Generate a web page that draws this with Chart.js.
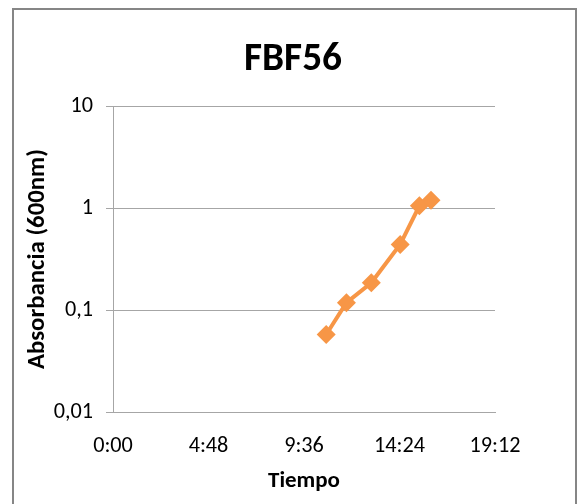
<!DOCTYPE html>
<html><head><meta charset="utf-8">
<script src="https://cdn.jsdelivr.net/npm/chart.js@4"></script>
<style>
html,body{margin:0;padding:0;background:#fff;overflow:hidden;width:577px;height:504px;}
#wrap{position:relative;width:577px;height:504px;overflow:hidden;}
#frame{position:absolute;left:12px;top:8px;width:565px;height:520px;border:2px solid #868686;box-sizing:border-box;pointer-events:none;}
canvas{position:absolute;left:0;top:0;}
</style></head>
<body><div id="wrap"><canvas id="c" width="577" height="504"></canvas><div id="frame"></div></div>
<script>
const chartTitle = 'FBF56';
const xAxisTitle = 'Tiempo';
const yAxisTitle = 'Absorbancia (600nm)';
const sampleTimes = ['10:43', '11:44', '12:59', '14:26', '15:24', '15:59'];
const absorbance = [0.0575, 0.118, 0.185, 0.439, 1.05, 1.19];
const xTickLabels = ['0:00', '4:48', '9:36', '14:24', '19:12'];
const yTickValues = [0.01, 0.1, 1, 10];
const yTickLabels = ['0,01', '0,1', '1', '10'];

const FAMILY = "Carlito, Lato, 'Open Sans', sans-serif";
const GRID = '#a6a6a6';
const ORANGE = '#F79646';

function toMin(s) { const p = s.split(':'); return (+p[0]) * 60 + (+p[1]); }
const mctx = document.createElement('canvas').getContext('2d');
function fit(text, weight, target) {
  mctx.font = `${weight} 100px ${FAMILY}`;
  return 100 * target / mctx.measureText(text).width;
}
function metrics(text, weight, size) {
  mctx.font = `${weight} ${size}px ${FAMILY}`;
  mctx.textBaseline = 'middle';
  const m = mctx.measureText(text);
  return { asc: m.actualBoundingBoxAscent, desc: m.actualBoundingBoxDescent };
}

const titleSize = fit(chartTitle, 'bold', 98);
const tickSize = fit('19:12', 'normal', 51);
const xTitleSize = fit(xAxisTitle, 'bold', 72);
const yTitleSize = fit(yAxisTitle, 'bold', 220);

const PLOT_TOP = 106;

// chart title: glyph centre at y = 56.3
const tm = metrics(chartTitle, 'bold', titleSize);
const titleMid = 56.3 - (tm.desc - tm.asc) / 2;
const titleLH = titleSize * 1.2;
const titlePadTop = titleMid - titleLH / 2;
const titlePadBottom = PLOT_TOP - titlePadTop - titleLH;

// x title: cap top at 473.3
const xm = metrics('T', 'bold', xTitleSize);
const xTitleMid = 473.3 + xm.asc;
const xTitleLH = xTitleSize * 1.2;
const xTitlePadBottom = 504 - xTitleMid - xTitleLH / 2;

// y title: cap top (left side) at x = 27.7
const ym = metrics('A', 'bold', yTitleSize);
const yTitleMid = 27.7 + ym.asc;
const yTitleLH = yTitleSize * 1.2;
const LEFTPAD = 9;
const yTitlePadTop = yTitleMid - LEFTPAD - yTitleLH / 2;

const xTickValues = xTickLabels.map(toMin);
const points = sampleTimes.map((t, i) => ({ x: toMin(t), y: absorbance[i] }));

new Chart(document.getElementById('c'), {
  type: 'line',
  data: {
    datasets: [{
      data: points,
      borderColor: ORANGE,
      backgroundColor: ORANGE,
      borderWidth: 4,
      pointStyle: 'rectRot',
      pointRadius: 9.5,
      pointBorderWidth: 0,
      pointBackgroundColor: ORANGE,
      tension: 0,
      clip: false
    }]
  },
  options: {
    responsive: false,
    animation: false,
    devicePixelRatio: 1,
    layout: { padding: { left: LEFTPAD, right: 0, top: 0, bottom: 0 } },
    plugins: {
      legend: { display: false },
      tooltip: { enabled: false },
      title: {
        display: true,
        text: chartTitle,
        color: '#000',
        font: { family: FAMILY, size: titleSize, weight: 'bold', lineHeight: 1.2 },
        padding: { top: titlePadTop, bottom: titlePadBottom }
      }
    },
    scales: {
      x: {
        type: 'linear',
        position: 'bottom',
        min: xTickValues[0],
        max: xTickValues[xTickValues.length - 1],
        afterBuildTicks: s => { s.ticks = xTickValues.map(v => ({ value: v })); },
        grid: { display: false, drawTicks: false, tickLength: 0 },
        border: { display: true, color: GRID, width: 1 },
        ticks: {
          color: '#000',
          font: { family: FAMILY, size: tickSize },
          padding: 21,
          maxRotation: 0,
          autoSkip: false,
          callback: (v, i) => xTickLabels[i]
        },
        title: {
          display: true,
          text: xAxisTitle,
          color: '#000',
          font: { family: FAMILY, size: xTitleSize, weight: 'bold', lineHeight: 1.2 },
          padding: { top: 0, bottom: xTitlePadBottom }
        },
        afterFit: s => { s.height = 92; }
      },
      y: {
        type: 'logarithmic',
        position: 'left',
        min: yTickValues[0],
        max: yTickValues[yTickValues.length - 1],
        afterBuildTicks: s => { s.ticks = yTickValues.map(v => ({ value: v })); },
        grid: { color: GRID, lineWidth: 1, drawTicks: true, tickLength: 7 },
        border: { display: true, color: GRID, width: 1 },
        ticks: {
          color: '#000',
          font: { family: FAMILY, size: tickSize },
          padding: 13,
          autoSkip: false,
          callback: (v, i) => yTickLabels[i]
        },
        title: {
          display: true,
          text: yAxisTitle,
          color: '#000',
          font: { family: FAMILY, size: yTitleSize, weight: 'bold', lineHeight: 1.2 },
          padding: { top: yTitlePadTop, bottom: 0 }
        },
        afterFit: s => { s.width = 113 - LEFTPAD; }
      },
      yRight: {
        type: 'linear',
        position: 'right',
        display: true,
        min: 0,
        max: 1,
        grid: { display: false, drawTicks: false },
        border: { display: false },
        ticks: { display: false },
        afterFit: s => { s.width = 82; }
      }
    }
  }
});
</script>
</body></html>
